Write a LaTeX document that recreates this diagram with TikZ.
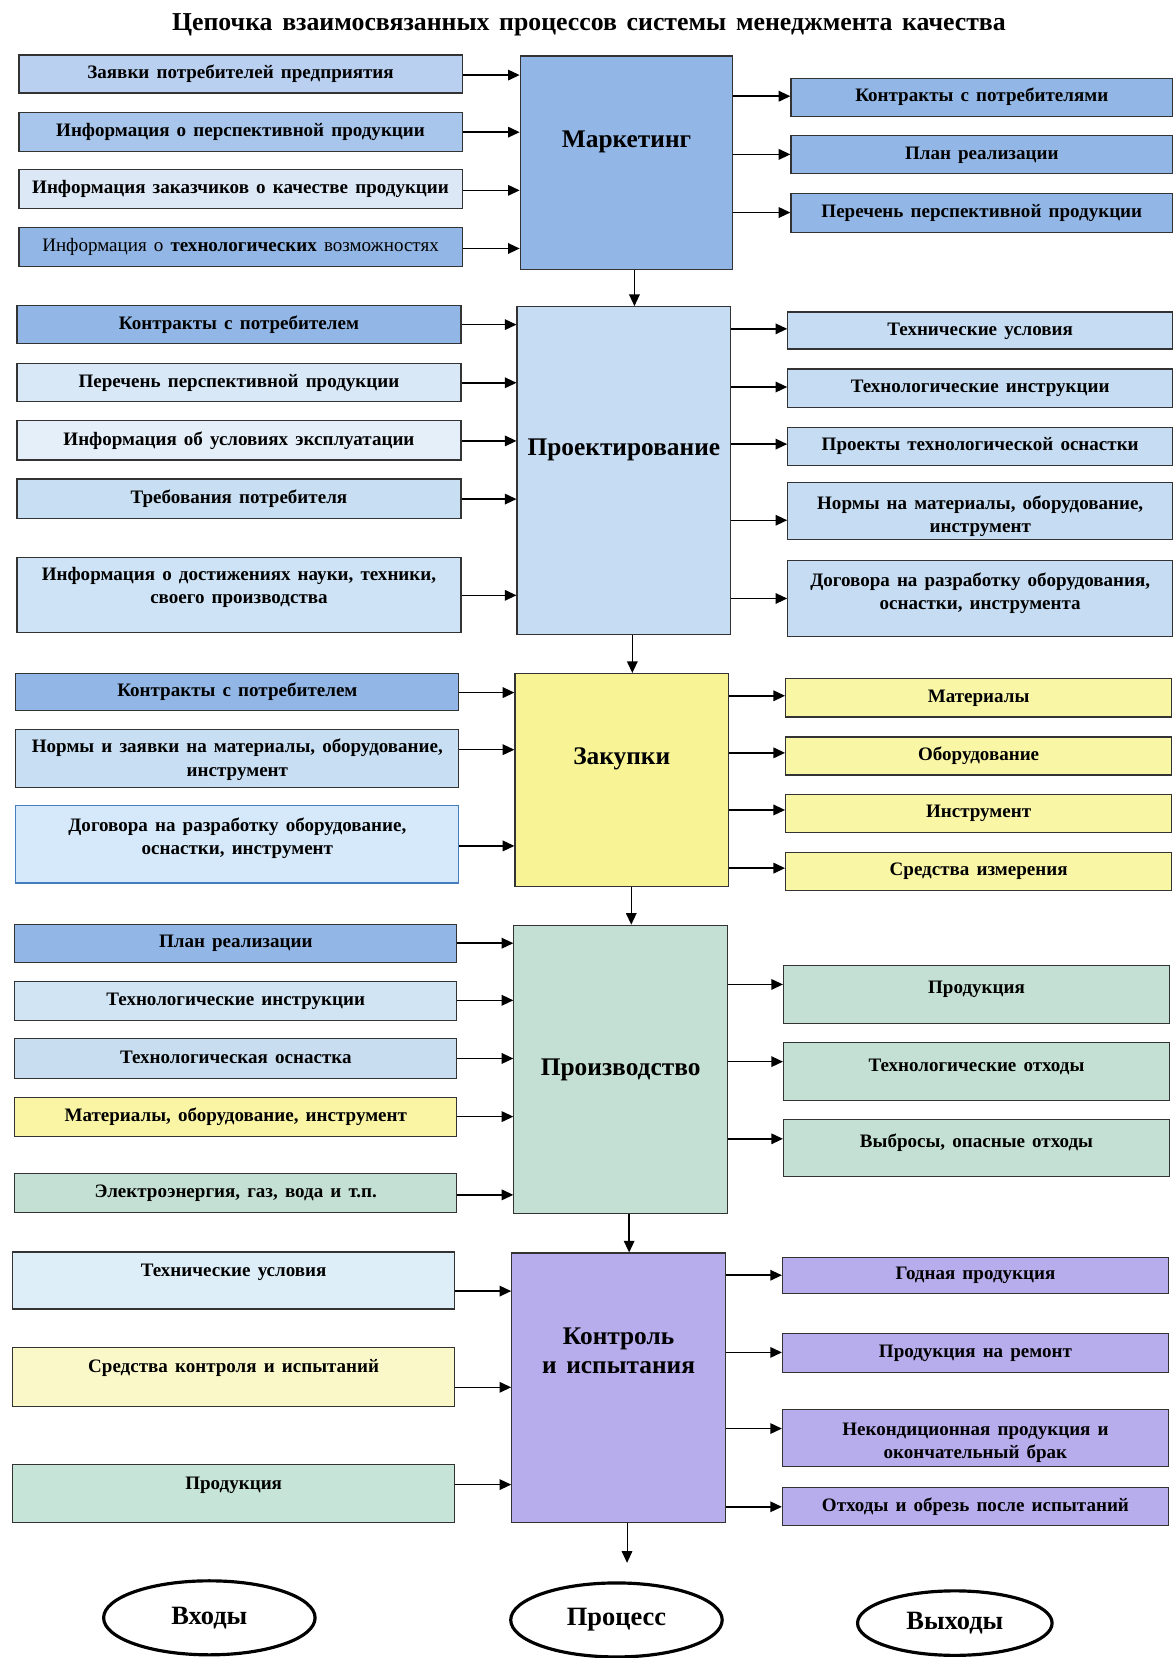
\documentclass[tikz,border=0pt]{standalone}
\usepackage{fontspec}
\setmainfont{Liberation Serif}[WordSpace=1.5]
\usetikzlibrary{arrows.meta,shapes.geometric}
\definecolor{cMk}{RGB}{146,183,230}
\definecolor{cA1}{RGB}{185,208,240}
\definecolor{cA2}{RGB}{168,197,236}
\definecolor{cA3}{RGB}{220,232,246}
\definecolor{cPj}{RGB}{197,220,242}
\definecolor{cL2}{RGB}{216,232,247}
\definecolor{cL3}{RGB}{229,239,249}
\definecolor{cL4}{RGB}{200,222,242}
\definecolor{cL5}{RGB}{206,227,245}
\definecolor{cYel}{RGB}{248,244,150}
\definecolor{cYelR}{RGB}{249,246,165}
\definecolor{cE2}{RGB}{200,223,243}
\definecolor{cE3}{RGB}{214,233,250}
\definecolor{cEb}{RGB}{70,125,190}
\definecolor{cGrn}{RGB}{196,224,212}
\definecolor{cG2}{RGB}{208,228,244}
\definecolor{cG3}{RGB}{200,221,240}
\definecolor{cG4}{RGB}{250,245,165}
\definecolor{cPur}{RGB}{183,172,236}
\definecolor{cI1}{RGB}{222,238,248}
\definecolor{cI2}{RGB}{250,248,200}
\definecolor{cI3}{RGB}{198,228,216}
\newcommand\sh[2]{\raisebox{0pt}[\dimexpr\height+#1\relax][\dimexpr\depth-#1\relax]{#2}}
\newcommand\tl[1]{\begin{tabular}{@{}c@{}}#1\end{tabular}}
\newcommand\bx[8][]{\node[boxst,#1,minimum width={(#5-#3)*1pt},minimum height={(#6-#4)*1pt}] (#2) at ({(#3+#5)/2},{(#4+#6)/2}) {\sh{#7pt}{\strut #8}};}
\newcommand\ar[3]{\draw[arr] (#1.east |- 0,#3) -- (#2.west |- 0,#3);}
\tikzset{
  boxst/.style={draw=black!80, line width=1.1pt, inner sep=0pt, text=black,
    font=\fontsize{18}{22}\selectfont\bfseries},
  proc/.style={font=\fontsize{24}{28}\selectfont\bfseries},
  arr/.style={-{Triangle[length=11pt,width=10pt]}, line width=1.4pt},
  oval/.style={ellipse, draw, line width=3pt, fill=white, inner sep=0pt,
    font=\fontsize{25}{29}\selectfont\bfseries},
}
\begin{document}
\begin{tikzpicture}[x=1pt,y=-1pt]
\fill[white] (0,0) rectangle (1109,1568);
\useasboundingbox (0,0) rectangle (1109,1568);
\node[font=\fontsize{24.4}{28}\selectfont\bfseries] (title) at (557,23) {Цепочка взаимосвязанных процессов системы менеджмента качества};
% ---------- Section 1
\bx[proc,fill=cMk]{mk}{492}{53}{693}{255}{-21}{Маркетинг}
\bx[fill=cA1]{a1}{18}{52}{437}{88}{0}{Заявки потребителей предприятия}
\bx[fill=cA2]{a2}{18}{106}{437}{143}{0}{Информация о перспективной продукции}
\bx[fill=cA3]{a3}{18}{160}{437}{197}{0}{Информация заказчиков о качестве продукции}
\bx[fill=cMk]{a4}{18}{215}{437}{252}{0}{{\mdseries Информация о} технологических {\mdseries возможностях}}
\bx[fill=cMk]{b1}{748}{74}{1109}{110}{0}{Контракты с потребителями}
\bx[fill=cMk]{b2}{748}{128}{1109}{164}{0}{План реализации}
\bx[fill=cMk]{b3}{748}{183}{1109}{220}{0}{Перечень перспективной продукции}
\ar{a1}{mk}{71}
\ar{a2}{mk}{125}
\ar{a3}{mk}{180}
\ar{a4}{mk}{235}
\ar{mk}{b1}{91}
\ar{mk}{b2}{146}
\ar{mk}{b3}{201}
% ---------- Section 2
\bx[proc,fill=cPj]{pj}{489}{290}{691}{600}{-20}{Проектирование}
\bx[fill=cMk]{c1}{16}{289}{436}{325}{0}{Контракты с потребителем}
\bx[fill=cL2]{c2}{16}{344}{436}{380}{0}{Перечень перспективной продукции}
\bx[fill=cL3]{c3}{16}{398}{436}{435}{0}{Информация об условиях эксплуатации}
\bx[fill=cL4]{c4}{16}{453}{436}{490}{0}{Требования потребителя}
\bx[fill=cL5]{c5}{16}{527}{436}{598}{-7}{\tl{Информация о достижениях науки, техники,\\своего производства}}
\bx[fill=cPj]{d1}{745}{295}{1109}{330}{0}{Технические условия}
\bx[fill=cPj]{d2}{745}{349}{1109}{385}{0}{Технологические инструкции}
\bx[fill=cPj]{d3}{745}{404}{1109}{440}{0}{Проекты технологической оснастки}
\bx[fill=cPj]{d4}{745}{456}{1109}{510}{5}{\tl{Нормы на материалы, оборудование,\\инструмент}}
\bx[fill=cPj]{d5}{745}{530}{1109}{602}{-5}{\tl{Договора на разработку оборудования,\\оснастки, инструмента}}
\ar{c1}{pj}{307}
\ar{c2}{pj}{362}
\ar{c3}{pj}{417}
\ar{c4}{pj}{472}
\ar{c5}{pj}{563}
\ar{pj}{d1}{311}
\ar{pj}{d2}{366}
\ar{pj}{d3}{420}
\ar{pj}{d4}{492}
\ar{pj}{d5}{566}
\draw[arr] (mk.south -| 600,0) -- (pj.north -| 600,0);
% ---------- Section 3
\bx[proc,fill=cYel]{zk}{487}{637}{689}{838}{-20}{Закупки}
\bx[fill=cMk]{e1}{15}{637}{434}{672}{0}{Контракты с потребителем}
\bx[fill=cE2]{e2}{15}{690}{434}{745}{1}{\tl{Нормы и заявки на материалы, оборудование,\\инструмент}}
\bx[fill=cE3,draw=cEb]{e3}{15}{762}{434}{835}{-6}{\tl{Договора на разработку оборудование,\\оснастки, инструмент}}
\bx[fill=cYelR]{f1}{743}{642}{1108}{678}{0}{Материалы}
\bx[fill=cYelR]{f2}{743}{697}{1108}{733}{0}{Оборудование}
\bx[fill=cYelR]{f3}{743}{751}{1108}{787}{0}{Инструмент}
\bx[fill=cYelR]{f4}{743}{806}{1108}{842}{0}{Средства измерения}
\ar{e1}{zk}{655}
\ar{e2}{zk}{709}
\ar{e3}{zk}{800}
\ar{zk}{f1}{658}
\ar{zk}{f2}{712}
\ar{zk}{f3}{766}
\ar{zk}{f4}{821}
\draw[arr] (pj.south -| 598,0) -- (zk.north -| 598,0);
% ---------- Section 4
\bx[proc,fill=cGrn]{pd}{486}{875}{688}{1148}{0}{Производство}
\bx[fill=cMk]{g1}{14}{874}{432}{910}{0}{План реализации}
\bx[fill=cG2]{g2}{14}{928}{432}{965}{0}{Технологические инструкции}
\bx[fill=cG3]{g3}{14}{982}{432}{1020}{0}{Технологическая оснастка}
\bx[fill=cG4]{g4}{14}{1038}{432}{1075}{0}{Материалы, оборудование, инструмент}
\bx[fill=cGrn]{g5}{14}{1110}{432}{1147}{0}{Электроэнергия, газ, вода и т.п.}
\bx[fill=cGrn]{h1}{741}{913}{1106}{968}{-5}{Продукция}
\bx[fill=cGrn]{h2}{741}{986}{1106}{1041}{-5}{Технологические отходы}
\bx[fill=cGrn]{h3}{741}{1059}{1106}{1113}{-5}{Выбросы, опасные отходы}
\ar{g1}{pd}{892}
\ar{g2}{pd}{946}
\ar{g3}{pd}{1001}
\ar{g4}{pd}{1056}
\ar{g5}{pd}{1130}
\ar{pd}{h1}{931}
\ar{pd}{h2}{1004}
\ar{pd}{h3}{1077}
\draw[arr] (zk.south -| 597,0) -- (pd.north -| 597,0);
% ---------- Section 5
\bx[proc,fill=cPur]{kt}{484}{1185}{686}{1440}{-33}{\tl{Контроль\\и испытания}}
\bx[fill=cI1]{i1}{12}{1184}{430}{1238}{-8}{Технические условия}
\bx[fill=cI2]{i2}{12}{1274}{430}{1330}{-8}{Средства контроля и испытаний}
\bx[fill=cI3]{i3}{12}{1385}{430}{1440}{-8}{Продукция}
\bx[fill=cPur]{j1}{740}{1189}{1105}{1223}{0}{Годная продукция}
\bx[fill=cPur]{j2}{740}{1261}{1105}{1298}{0}{Продукция на ремонт}
\bx[fill=cPur]{j3}{740}{1333}{1105}{1387}{4}{\tl{Некондиционная продукция и\\окончательный брак}}
\bx[fill=cPur]{j4}{740}{1407}{1105}{1443}{0}{Отходы и обрезь после испытаний}
\ar{i1}{kt}{1221}
\ar{i2}{kt}{1312}
\ar{i3}{kt}{1404}
\ar{kt}{j1}{1206}
\ar{kt}{j2}{1279}
\ar{kt}{j3}{1351}
\ar{kt}{j4}{1425}
\draw[arr] (pd.south -| 595,0) -- (kt.north -| 595,0);
\coordinate (fin) at (593,1478);
\draw[arr, line width=1pt] (kt.south -| fin) -- (fin);
% ---------- Legend
\node[oval, minimum width=200pt, minimum height=70pt] (vx) at (198,1530) {Входы};
\node[oval, minimum width=200pt, minimum height=70pt] (pc) at (583,1532) {Процесс};
\node[oval, minimum width=184pt, minimum height=61pt] (vy) at (903,1535) {Выходы};
\end{tikzpicture}
\end{document}
